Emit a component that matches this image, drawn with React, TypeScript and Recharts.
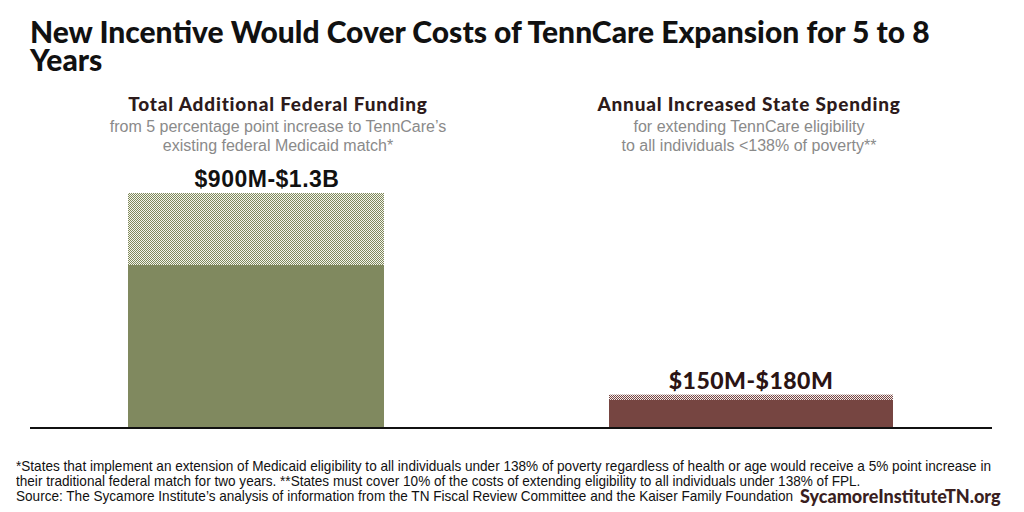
import React from "react";
import { BarChart, Bar, XAxis, YAxis, Cell, LabelList } from "recharts";

const categories = ["Total Additional Federal Funding", "Annual Increased State Spending"];
const baseValues = [900, 150];
const rangeExtra = [400, 30];
const rangeLabels = ["$900M-$1.3B", "$150M-$180M"];
const yTicks = [0, 1300];

const data = categories.map((name, i) => ({
  name,
  base: baseValues[i],
  extra: rangeExtra[i],
  label: rangeLabels[i],
}));

const solidColors = ["#80895f", "#764541"];
const patternIds = ["url(#greenPat)", "url(#brownPat)"];
const barWidths = [256, 284];
const labelColors = ["#111111", "#2b1414"];
const labelFonts = ["'Liberation Sans', Arial, sans-serif", "Lato, sans-serif"];
const labelDx = [11, 0];

const BarShape = (props: any) => {
  const { x, y, width, height, fill, index } = props;
  const w = barWidths[index] ?? width;
  const cx = x + width / 2;
  return <rect x={cx - w / 2} y={y} width={w} height={Math.max(height, 0)} fill={fill} />;
};

const RangeLabel = (props: any) => {
  const { x, y, width, index } = props;
  const v = data[index].label;
  return (
    <text
      x={x + width / 2 + labelDx[index]}
      y={y - 6}
      textAnchor="middle"
      fontSize={23}
      fontWeight={index === 0 ? "bold" : 900}
      letterSpacing={0.5}
      fontFamily={labelFonts[index]}
      fill={labelColors[index]}
    >
      {v}
    </text>
  );
};

const abs = (s: React.CSSProperties): React.CSSProperties => ({ position: "absolute", margin: 0, ...s });

export default function App() {
  const head: React.CSSProperties = {
    fontFamily: "Lato, sans-serif",
    fontWeight: 900,
    fontSize: 19,
    color: "#2d1b1b",
    textAlign: "center",
    letterSpacing: 0.8,
  };
  const sub: React.CSSProperties = {
    fontFamily: "'Liberation Sans', Arial, sans-serif",
    fontSize: 16,
    color: "#8a8a8a",
    textAlign: "center",
    lineHeight: "19px",
  };
  const foot: React.CSSProperties = {
    fontFamily: "'Liberation Sans', Arial, sans-serif",
    fontSize: 15,
    color: "#111",
    lineHeight: "15px",
    whiteSpace: "nowrap",
    transform: "scaleX(0.905)",
    transformOrigin: "left top",
  };
  return (
    <div style={{ position: "absolute", left: 0, top: 0, width: 1024, height: 512, background: "#fff", overflow: "hidden" }}>
      <div
        style={abs({
          left: 30,
          top: 17,
          width: 960,
          fontFamily: "Lato, sans-serif",
          fontWeight: 900,
          fontSize: 30,
          lineHeight: "28px",
          color: "#111",
        })}
      >
        New Incentive Would Cover Costs of TennCare Expansion for 5 to 8 Years
      </div>

      <div style={abs({ ...head, left: 78, width: 400, top: 92 })}>{categories[0]}</div>
      <div style={abs({ ...sub, left: 73, width: 410, top: 117 })}>
        from 5 percentage point increase to TennCare’s
        <br />
        existing federal Medicaid match*
      </div>
      <div style={abs({ ...head, left: 549, width: 400, top: 92 })}>{categories[1]}</div>
      <div style={abs({ ...sub, left: 549, width: 400, top: 117 })}>
        for extending TennCare eligibility
        <br />
        to all individuals &lt;138% of poverty**
      </div>

      <div style={abs({ left: 0, top: 0 })}>
        <BarChart
          width={1024}
          height={512}
          data={data}
          margin={{ top: 193, right: 26, bottom: 85, left: 8 }}
          barCategoryGap={0}
        >
          <defs>
            <pattern id="greenPat" width={2} height={2} patternUnits="userSpaceOnUse">
              <rect width={2} height={2} fill="#f4f5ee" />
              <rect x={0} y={0} width={1} height={1} fill="#7f885a" />
              <rect x={1} y={1} width={1} height={1} fill="#7f885a" />
            </pattern>
            <pattern id="brownPat" width={2} height={2} patternUnits="userSpaceOnUse">
              <rect width={2} height={2} fill="#f4efee" />
              <rect x={0} y={0} width={1} height={1} fill="#764541" />
              <rect x={1} y={1} width={1} height={1} fill="#764541" />
            </pattern>
          </defs>
          <XAxis dataKey="name" hide />
          <YAxis hide domain={[0, 1300]} ticks={yTicks} />
          <Bar dataKey="base" stackId="a" isAnimationActive={false} shape={BarShape} barSize={270}>
            {data.map((_d, i) => (
              <Cell key={`b-${i}`} fill={solidColors[i]} />
            ))}
          </Bar>
          <Bar dataKey="extra" stackId="a" isAnimationActive={false} shape={BarShape} barSize={270}>
            {data.map((_d, i) => (
              <Cell key={`e-${i}`} fill={patternIds[i]} />
            ))}
            <LabelList dataKey="label" content={RangeLabel} />
          </Bar>
        </BarChart>
      </div>

      <div style={abs({ left: 30, top: 427, width: 962, height: 2, background: "#111" })} />

      <div style={abs({ ...foot, left: 16, top: 458 })}>
        *States that implement an extension of Medicaid eligibility to all individuals under 138% of poverty regardless of health or age would receive a 5% point increase in
        <br />
        their traditional federal match for two years. **States must cover 10% of the costs of extending eligibility to all individuals under 138% of FPL.
        <br />
        Source: The Sycamore Institute’s analysis of information from the TN Fiscal Review Committee and the Kaiser Family Foundation
      </div>
      <div
        style={abs({
          left: 800,
          top: 485,
          fontFamily: "Lato, sans-serif",
          fontWeight: 900,
          fontSize: 18,
          color: "#3a1f1f",
          whiteSpace: "nowrap",
        })}
      >
        SycamoreInstituteTN.org
      </div>
    </div>
  );
}
